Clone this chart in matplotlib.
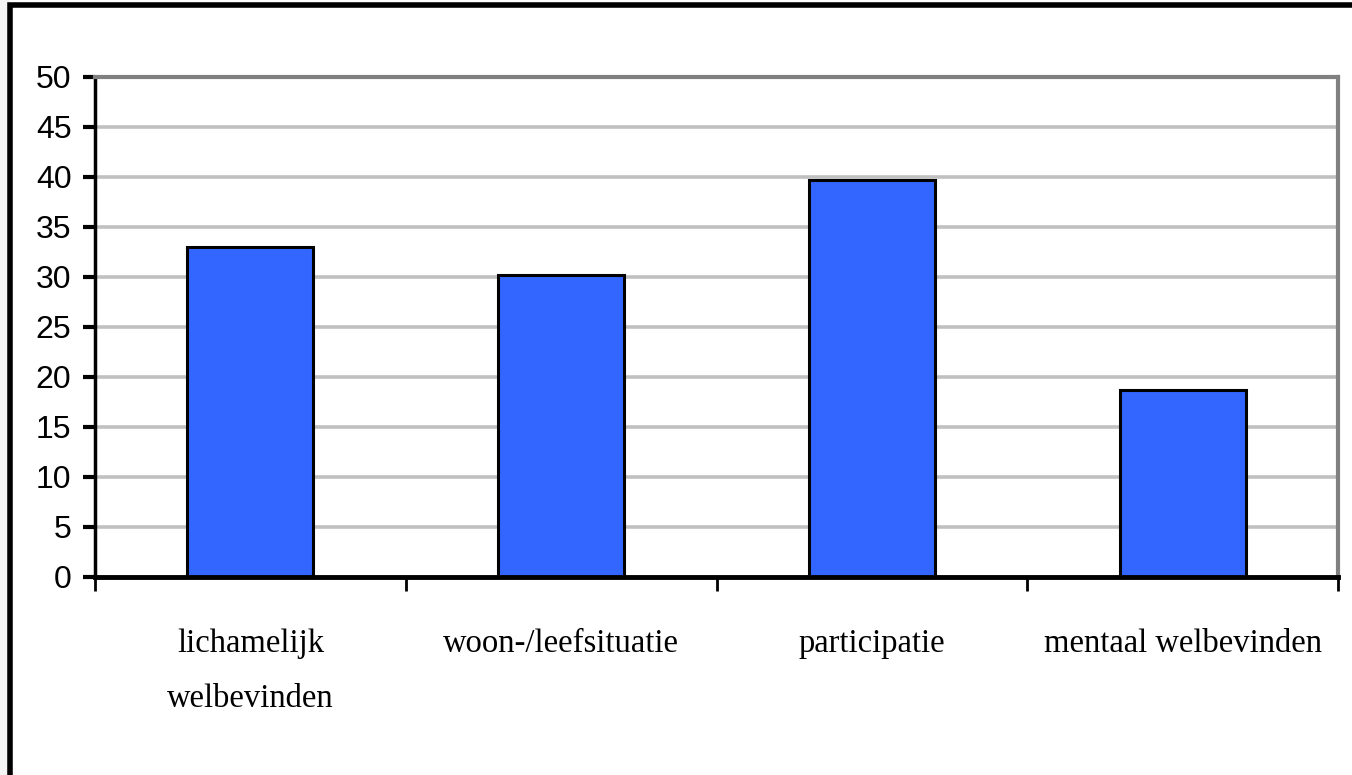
import matplotlib
matplotlib.use("Agg")
import matplotlib.pyplot as plt
from matplotlib.patches import Rectangle
from matplotlib.ticker import FixedLocator, NullFormatter

categories = ["lichamelijk\nwelbevinden", "woon-/leefsituatie", "participatie", "mentaal welbevinden"]
values = [33.0, 30.2, 39.7, 18.7]
yticks = [0, 5, 10, 15, 20, 25, 30, 35, 40, 45, 50]

W, H = 1352, 775
fig = plt.figure(figsize=(W / 100, H / 100), dpi=100)
fig.patch.set_facecolor("white")

# light gray strip at left edge and outer black frame
fig.add_artist(Rectangle((0, 0), 10 / W, 1, transform=fig.transFigure,
                         facecolor="#f4f4f4", edgecolor="none", zorder=0))
fig.add_artist(Rectangle((10 / W, -0.05), 1.1, 1 - 5 / H + 0.05, transform=fig.transFigure,
                         facecolor="white", edgecolor="black", linewidth=4, zorder=0.5))

left, right, top, bottom = 95, 1338, 77, 577
ax = fig.add_axes([left / W, 1 - bottom / H, (right - left) / W, (bottom - top) / H])
ax.set_zorder(1)

x = list(range(len(categories)))
ax.bar(x, values, width=0.405, color="#3366FF", edgecolor="black", linewidth=2.2, zorder=3)

ax.set_xlim(-0.5, len(categories) - 0.5)
ax.set_ylim(0, 50)
ax.set_yticks(yticks)
ax.set_yticklabels([str(v) for v in yticks],
                   fontfamily=["Liberation Sans Narrow", "Liberation Sans", "DejaVu Sans"],
                   fontsize=23)
for y in yticks[1:-1]:
    ax.axhline(y, color="#C0C0C0", linewidth=2.6, zorder=1)

# x: tick marks at category boundaries, labels at centres
ax.xaxis.set_major_locator(FixedLocator([i - 0.5 for i in range(len(categories) + 1)]))
ax.xaxis.set_major_formatter(NullFormatter())
ax.xaxis.set_minor_locator(FixedLocator(x))
ax.set_xticklabels(categories, minor=True,
                   fontfamily=["Liberation Serif", "DejaVu Serif"],
                   fontsize=23.5, linespacing=2.05, va="top")
ax.tick_params(axis="x", which="major", direction="out", length=10, width=2, color="black")
ax.tick_params(axis="x", which="minor", length=0, pad=37)
ax.tick_params(axis="y", direction="out", length=9, width=3, color="black", pad=8)

ax.spines["left"].set_color("black")
ax.spines["left"].set_linewidth(2.5)
ax.spines["bottom"].set_color("black")
ax.spines["bottom"].set_linewidth(3.5)
ax.spines["bottom"].set_zorder(4)
ax.spines["top"].set_color("#808080")
ax.spines["top"].set_linewidth(3)
ax.spines["right"].set_color("#808080")
ax.spines["right"].set_linewidth(3)

fig.savefig("out.png", dpi=100, facecolor=fig.get_facecolor())
